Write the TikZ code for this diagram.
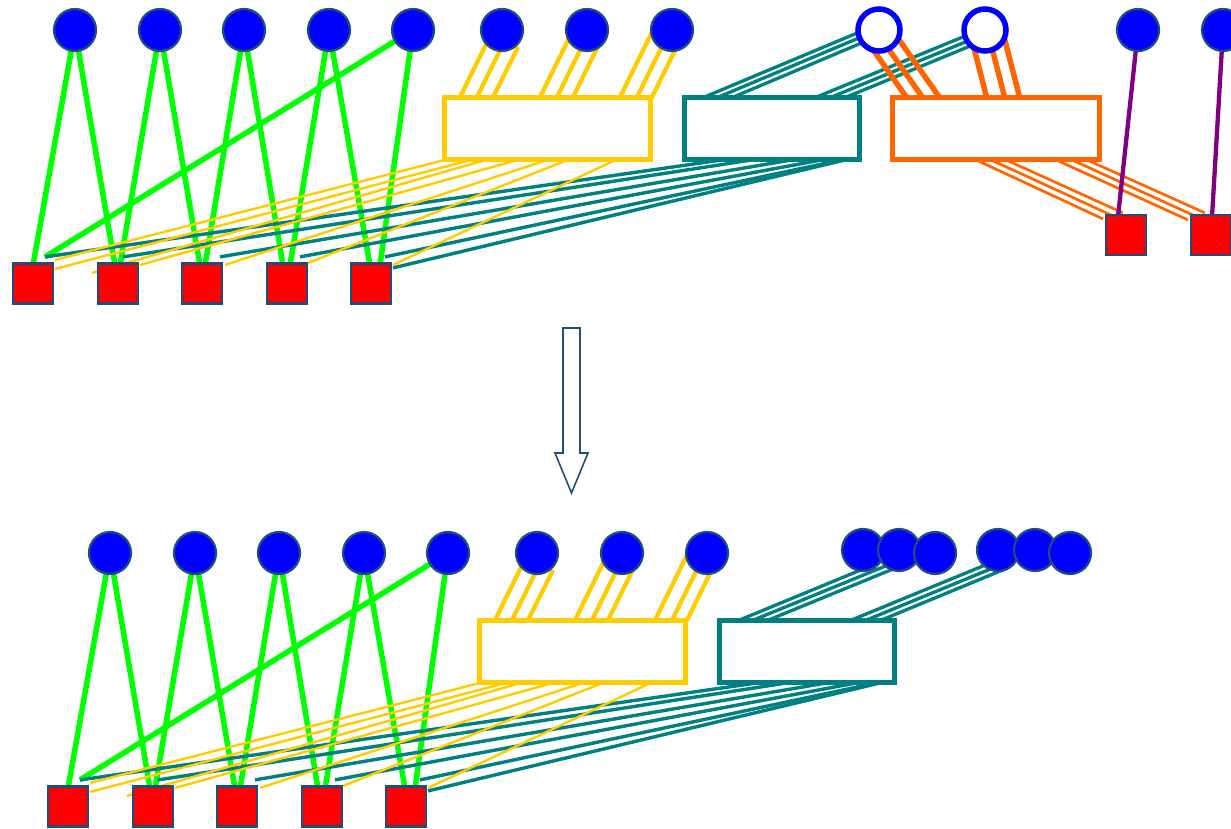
\documentclass[tikz,border=0pt]{standalone}
\usetikzlibrary{calc}
\definecolor{cBlue}{RGB}{0,0,255}
\definecolor{cEdge}{RGB}{31,78,121}
\definecolor{cRed}{RGB}{255,0,0}
\definecolor{cGreen}{RGB}{0,255,0}
\definecolor{cYel}{RGB}{255,204,0}
\definecolor{cTeal}{RGB}{0,128,128}
\definecolor{cOra}{RGB}{255,102,0}
\definecolor{cPur}{RGB}{128,0,128}
\pgfdeclarelayer{back}
\pgfdeclarelayer{lines}
\pgfsetlayers{back,lines,main}
\tikzset{
  fc/.style={circle, fill=cBlue, draw=cEdge, line width=2.2pt, minimum size=42pt, inner sep=0pt},
  oc/.style={circle, fill=white, draw=cBlue, line width=5.5pt, minimum size=42pt, inner sep=0pt},
  sq/.style={rectangle, fill=cRed, draw=cEdge, line width=2.2pt, minimum size=40pt, inner sep=0pt},
  bx/.style={rectangle, fill=white, line width=5.5pt, minimum height=62pt, inner sep=0pt},
  gl/.style={draw=cGreen, line width=5.5pt},
  ytop/.style={draw=cYel, line width=4.3pt},
  ybot/.style={draw=cYel, line width=2.4pt},
  ttop/.style={draw=cTeal, line width=3.3pt},
  tbot/.style={draw=cTeal, line width=3.4pt},
  otop/.style={draw=cOra, line width=5.5pt},
  obot/.style={draw=cOra, line width=2.7pt},
  pl/.style={draw=cPur, line width=4.3pt},
  hollowarrow/.style={draw=cEdge, line width=1.6pt, fill=white, line join=miter}
}
\newcommand\drawcommon[1]{%
  \foreach \nn/\xx in {1/75,2/160,3/244,4/329,5/413}{\node[fc] (#1G\nn) at (\xx,30) {};}
  \foreach \nn/\xx in {1/502,2/587,3/672}{\node[fc] (#1Y\nn) at (\xx,30) {};}
  \foreach \nn/\xx in {1/33,2/118,3/202,4/287,5/371}{\node[sq] (#1S\nn) at (\xx,283.5) {};}
  \node[bx, draw=cYel, minimum width=206pt] (#1YB) at (547.5,128.5) {};
  \node[bx, draw=cTeal, minimum width=175pt] (#1TB) at (772,128.5) {};
  \begin{pgfonlayer}{lines}
    % green connectors
    \draw[gl] (#1G1.center) -- ($(#1S1.north)+(0,3)$);
    \draw[gl] (#1G1.center) -- ($(#1S2.north)+(-3,3)$);
    \draw[gl] (#1G2.center) -- ($(#1S2.north)+(2,3)$);
    \draw[gl] (#1G2.center) -- ($(#1S3.north)+(-2,3)$);
    \draw[gl] (#1G3.center) -- ($(#1S3.north)+(3,3)$);
    \draw[gl] (#1G3.center) -- ($(#1S4.north)+(-4,3)$);
    \draw[gl] (#1G4.center) -- ($(#1S4.north)+(3,3)$);
    \draw[gl] (#1G4.center) -- ($(#1S5.north)+(-1,3)$);
    \draw[gl] (#1G5.center) -- ($(#1S5.north)+(9,3)$);
    \draw[gl] (#1G5.center) -- ($(#1S1.north)+(12,-5.5)$);
    % teal box to squares
    \foreach \aa/\ss/\dx/\dy in {38/1/12/-5.5, 68/2/5/-5.5, 108/3/18/-5.5, 138/4/13/-5.5, 158/5/14/-5.5}{
      \draw[tbot] ($(#1TB.south west)+(\aa,-2)$) -- ($(#1S\ss.north)+(\dx,\dy)$);}
    \draw[tbot] ($(#1TB.south west)+(162,-2)$) -- ($(#1S5.north east)+(1,5.5)$);
    % yellow box to squares
    \foreach \aa/\ss/\dx/\dy in {2/1/1/-2.5, 28/1/1/6.5, 75/2/1/2.5, 105/3/2/2.5, 125/4/0/0.5, 173/5/1/2.5}{
      \draw[ybot] ($(#1YB.south west)+(\aa,-2)$) -- ($(#1S\ss.north east)+(\dx,\dy)$);}
    \draw[ybot] ($(#1YB.south west)+(43,-2)$) -- ($(#1S2.north west)+(-5,10.5)$);
    % circles to yellow box
    \foreach \aa/\cc/\dx/\dy in {18/1/-7.2/-3.6, 35/1/6.4/3.2, 51/1/16/17, 98/2/-11.2/-5.5, 115/2/2.4/1.3, 131/2/15.2/7.6, 178/3/-15.3/-7.5, 195/3/-1.6/-0.7, 210/3/10.4/5.3}{
      \draw[ytop] ($(#1YB.north west)+(\aa,3)$) -- ($(#1Y\cc)+(\dx,\dy)$);}
  \end{pgfonlayer}
}
\begin{document}
\begin{tikzpicture}[x=1pt, y=-1pt]
\useasboundingbox (0,0) rectangle (1231,829);
\begin{pgfonlayer}{back}
  \fill[white] (0,0) rectangle (1231,829);
\end{pgfonlayer}

% ---------------- top part ----------------
\drawcommon{t}
\node[oc] (tO1) at (879,30) {};
\node[oc] (tO2) at (985,30) {};
\node[bx, draw=cOra, minimum width=207pt] (tOB) at (996,128.5) {};
\node[fc] (tP1) at (1138,30) {};
\node[fc] (tP2) at (1223,30) {};
\node[sq] (tR1) at (1126,235) {};
\node[sq] (tR2) at (1211,235) {};
\begin{pgfonlayer}{lines}
  % teal box to open circles
  \draw[ttop] ($(tTB.north west)+(21,3)$) -- ($(tO1)+(-9,-2.4)$);
  \draw[ttop] ($(tTB.north west)+(35,3)$) -- ($(tO1)+(-9,3.3)$);
  \draw[ttop] ($(tTB.north west)+(50,3)$) -- ($(tO1)+(-9,9.4)$);
  \draw[ttop] ($(tTB.north west)+(133,3)$) -- ($(tO2)+(-10,2)$);
  \draw[ttop] ($(tTB.north west)+(148,3)$) -- ($(tO2)+(-10,8)$);
  \draw[ttop] ($(tTB.north west)+(163,3)$) -- ($(tO2)+(-7,12.8)$);
  % orange box to open circles
  \draw[otop] ($(tOB.north west)+(17,3)$) -- ($(tO1)+(-12.7,10)$);
  \draw[otop] ($(tOB.north west)+(33,3)$) -- ($(tO1)+(3.3,10)$);
  \draw[otop] ($(tOB.north west)+(50,3)$) -- ($(tO1)+(17.4,6)$);
  \draw[otop] ($(tOB.north west)+(97,3)$) -- ($(tO2)+(-13.1,10)$);
  \draw[otop] ($(tOB.north west)+(115,3)$) -- ($(tO2)+(4.9,10)$);
  \draw[otop] ($(tOB.north west)+(130,3)$) -- ($(tO2)+(18.8,6)$);
  % orange box to right squares
  \draw[obot] ($(tOB.south west)+(87,-2)$) -- ($(tR1.north west)+(-2,5)$);
  \draw[obot] ($(tOB.south west)+(102,-2)$) -- ($(tR1.north west)+(8,2)$);
  \draw[obot] ($(tOB.south west)+(117,-2)$) -- ($(tR1.north west)+(18,-1)$);
  \draw[obot] ($(tOB.south west)+(167,-2)$) -- ($(tR2.north west)+(-2,6)$);
  \draw[obot] ($(tOB.south west)+(183,-2)$) -- ($(tR2.north west)+(7,3)$);
  \draw[obot] ($(tOB.south west)+(198,-2)$) -- ($(tR2.north west)+(15,-1)$);
  % purple
  \draw[pl] (tP1.center) -- ($(tR1.north)+(-8,3)$);
  \draw[pl] (tP2.center) -- ($(tR2.north)+(1,3)$);
\end{pgfonlayer}

% ---------------- arrow ----------------
\draw[hollowarrow] (563,328) -- (580,328) -- (580,453) -- (588,453) -- (571.5,493) -- (555,453) -- (563,453) -- cycle;

% ---------------- bottom part ----------------
\begin{scope}[shift={(35,523)}]
\drawcommon{b}
\node[fc] (bK1a) at (828,27) {};
\node[fc] (bK1b) at (864,27) {};
\node[fc] (bK1c) at (900,30) {};
\node[fc] (bK2a) at (963,27) {};
\node[fc] (bK2b) at (1000,27) {};
\node[fc] (bK2c) at (1035,30) {};
\begin{pgfonlayer}{lines}
  \draw[ttop] ($(bTB.north west)+(21,3)$) -- ($(bK1a)+(5,17)$);
  \draw[ttop] ($(bTB.north west)+(35,3)$) -- ($(bK1b)+(-13,15.8)$);
  \draw[ttop] ($(bTB.north west)+(50,3)$) -- ($(bK1b)+(-4,18.2)$);
  \draw[ttop] ($(bTB.north west)+(133,3)$) -- ($(bK2a)+(-3,11)$);
  \draw[ttop] ($(bTB.north west)+(148,3)$) -- ($(bK2a)+(7,13)$);
  \draw[ttop] ($(bTB.north west)+(163,3)$) -- ($(bK2a)+(7,19)$);
\end{pgfonlayer}
\end{scope}
\end{tikzpicture}
\end{document}
